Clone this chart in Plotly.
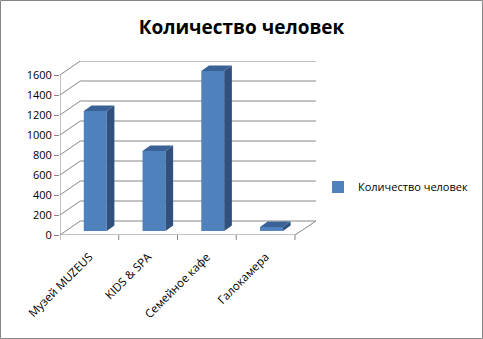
import plotly.graph_objects as go

categories = ["Музей MUZEUS", "KIDS & SPA", "Семейное кафе", "Галокамера"]
values = [1200, 800, 1600, 40]
series_name = "Количество человек"
y_ticks = [0, 200, 400, 600, 800, 1000, 1200, 1400, 1600]

W, H = 483, 339
ML, MR, MT, MB = 60, 167, 61, 104
depth_x = 0.345      # back-wall offset in category units
depth_y = 140        # back-wall offset in value units
bar_w = 0.39
bar_front = 0.29     # fraction of depth where bar front sits
bar_depth = 0.38     # fraction of depth taken by bar
xmin, xmax = -0.5, 3.5 + 0.358
ymax = 1600 + depth_y

FRONT = "#4F81BD"
SIDE = "#30507D"
TOP = "#3B6296"
GRID = "#868686"

fig = go.Figure()

xs = [i + bar_front * depth_x for i in range(len(categories))]
base = bar_front * depth_y
fig.add_trace(go.Bar(x=xs, y=values, base=[base] * len(values), width=bar_w,
                     marker=dict(color=FRONT, line=dict(width=0)),
                     name=series_name, showlegend=True))

ddx = bar_depth * depth_x
ddy = bar_depth * depth_y
for x, v in zip(xs, values):
    r = x + bar_w / 2
    l = x - bar_w / 2
    fig.add_trace(go.Scatter(x=[r, r + ddx, r + ddx, r, r],
                             y=[base, base + ddy, base + v + ddy, base + v, base],
                             fill="toself", fillcolor=SIDE, mode="lines",
                             line=dict(width=0), showlegend=False, hoverinfo="skip"))
    fig.add_trace(go.Scatter(x=[l, r, r + ddx, l + ddx, l],
                             y=[base + v, base + v, base + v + ddy, base + v + ddy, base + v],
                             fill="toself", fillcolor=TOP, mode="lines",
                             line=dict(width=0), showlegend=False, hoverinfo="skip"))

shapes = []
for v in y_ticks:
    shapes.append(dict(type="line", xref="x", yref="y", x0=xmin, y0=v,
                       x1=xmin + depth_x, y1=v + depth_y, line=dict(color=GRID, width=1), layer="below"))
    shapes.append(dict(type="line", xref="x", yref="y", x0=xmin + depth_x, y0=v + depth_y,
                       x1=xmax, y1=v + depth_y, line=dict(color=GRID, width=1), layer="below"))
shapes.append(dict(type="line", xref="x", yref="y", x0=xmin, y0=0, x1=3.5, y1=0,
                   line=dict(color=GRID, width=1), layer="below"))
shapes.append(dict(type="line", xref="x", yref="y", x0=3.5, y0=0, x1=xmax, y1=depth_y,
                   line=dict(color=GRID, width=1), layer="below"))
shapes.append(dict(type="line", xref="x", yref="y", x0=xmin, y0=0, x1=xmin, y1=1600,
                   line=dict(color=GRID, width=1)))
ph = H - MT - MB
pw = W - ML - MR
for k in range(len(categories) + 1):
    shapes.append(dict(type="line", xref="x", yref="paper", x0=k - 0.5, x1=k - 0.5,
                       y0=0, y1=-5 / ph, line=dict(color=GRID, width=1)))
shapes.append(dict(type="rect", xref="paper", yref="paper",
                   x0=(0.5 - ML) / pw, x1=(W - 0.5 - ML) / pw,
                   y0=-(MB - 0.5) / ph, y1=1 + (MT - 0.5) / ph,
                   line=dict(color=GRID, width=1)))

fig.update_layout(
    width=W, height=H,
    margin=dict(l=ML, r=MR, t=MT, b=MB, autoexpand=False),
    paper_bgcolor="white", plot_bgcolor="white",
    font=dict(family="Open Sans", size=11, color="#000"),
    title=dict(text="<b>Количество человек</b>", x=0.5, xref="container", xanchor="center",
               y=1 - 27 / H, yanchor="middle", font=dict(size=19, color="#000")),
    xaxis=dict(range=[xmin, xmax], tickvals=list(range(len(categories))), ticktext=categories,
               tickangle=-45, showgrid=False, zeroline=False, showline=False, ticks="",
               tickfont=dict(size=11.5), automargin=False, ticklabelstandoff=12, ticklabelshift=0),
    yaxis=dict(range=[0, ymax], tickvals=y_ticks, showgrid=False, zeroline=False, showline=False,
               ticks="outside", ticklen=5, tickcolor=GRID, tickfont=dict(size=11), automargin=False),
    legend=dict(x=(318 - ML) / pw, xanchor="left", y=(235 - 187) / ph, yanchor="middle",
                font=dict(size=11), bgcolor="rgba(0,0,0,0)", itemwidth=30),
    shapes=shapes,
    showlegend=True,
)

fig.write_html("out.html")
